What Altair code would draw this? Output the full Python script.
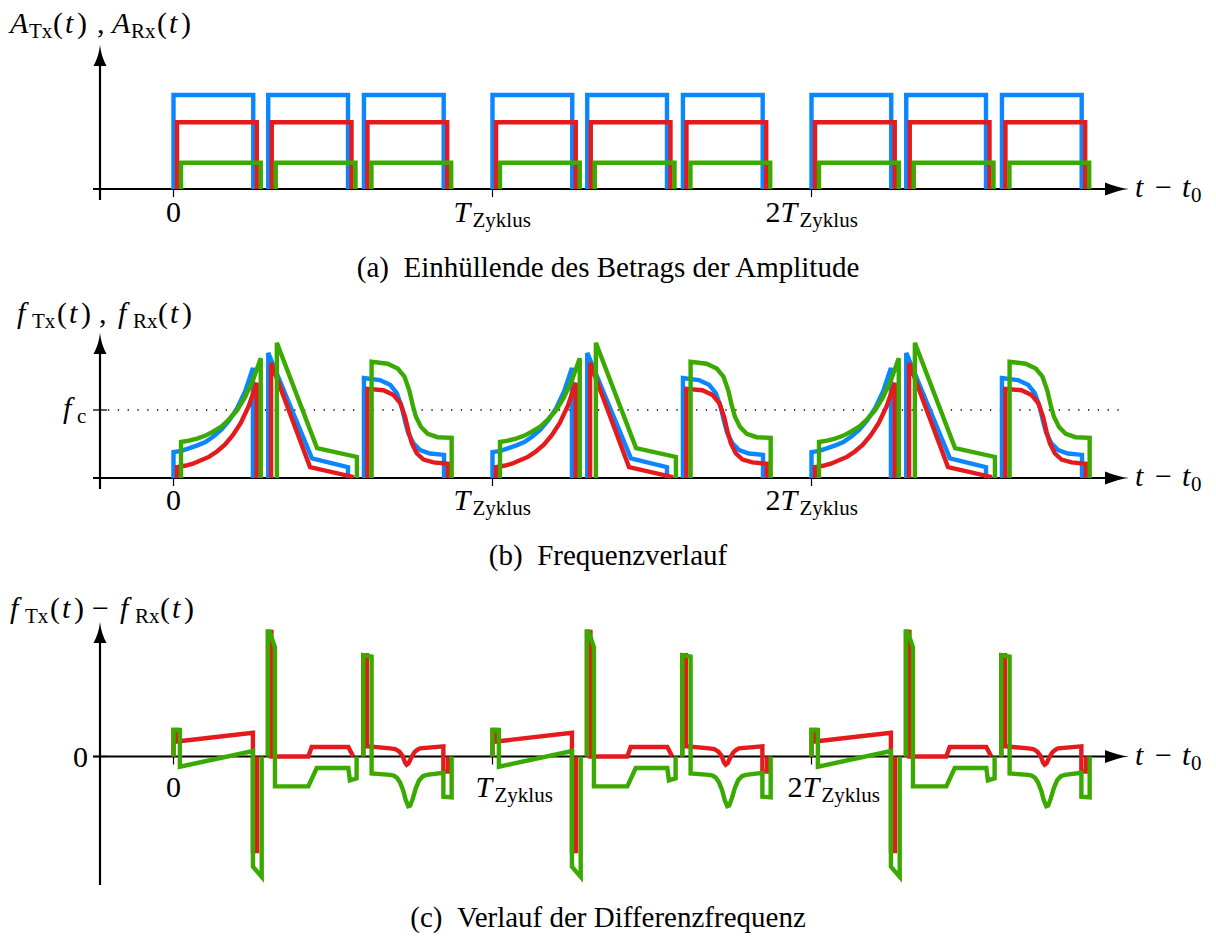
import altair as alt
import pandas as pd

# ---------------- values ----------------
CYCLES = [0, 1, 2]          # repetitions of T_Zyklus
TICKS = [0, 1, 2]           # 0, T_Zyklus, 2 T_Zyklus

# (a) envelope of the amplitude: pulse starts (units of T_Zyklus), width, height
a_blue_start = [0.000, 0.297, 0.597]
a_red_start = [0.011, 0.308, 0.608]
a_green_start = [0.0235, 0.3205, 0.6205]
a_width = 0.25
a_blue_amp = 1.00
a_red_amp = 0.71
a_green_amp = 0.28

# (b) frequency course (units of f_c), one cycle, three pulses each
b_blue_t = [[0.000, 0.025, 0.050, 0.075, 0.100, 0.125, 0.150, 0.175, 0.200, 0.225, 0.249],
            [0.297, 0.434, 0.547],
            [0.597, 0.647, 0.679, 0.700, 0.715, 0.726, 0.736, 0.752, 0.773, 0.804, 0.848]]
b_blue_f = [[0.38, 0.40, 0.44, 0.48, 0.53, 0.61, 0.71, 0.85, 1.03, 1.28, 1.62],
            [1.84, 0.29, 0.16],
            [1.47, 1.44, 1.37, 1.25, 1.05, 0.83, 0.66, 0.51, 0.41, 0.36, 0.34]]
b_red_t = [[0.011, 0.036, 0.061, 0.086, 0.111, 0.136, 0.161, 0.186, 0.211, 0.236, 0.261],
           [0.306, 0.428, 0.560],
           [0.608, 0.658, 0.690, 0.711, 0.726, 0.737, 0.747, 0.763, 0.784, 0.815, 0.860]]
b_red_f = [[0.16, 0.18, 0.21, 0.26, 0.31, 0.39, 0.49, 0.63, 0.81, 1.06, 1.40],
           [1.69, 0.16, 0.02],
           [1.31, 1.29, 1.22, 1.10, 0.90, 0.68, 0.51, 0.36, 0.27, 0.23, 0.21]]
b_green_t = [[0.0235, 0.0485, 0.0735, 0.0985, 0.1235, 0.1485, 0.1735, 0.1985, 0.2235, 0.2485, 0.2735],
             [0.324, 0.450, 0.575],
             [0.621, 0.671, 0.703, 0.724, 0.739, 0.750, 0.760, 0.776, 0.797, 0.828, 0.872]]
b_green_f = [[0.53, 0.55, 0.58, 0.62, 0.68, 0.75, 0.86, 0.99, 1.18, 1.43, 1.76],
             [1.99, 0.44, 0.31],
             [1.71, 1.68, 1.61, 1.49, 1.29, 1.07, 0.90, 0.75, 0.65, 0.60, 0.59]]
F_C = 1.0

# (c) difference frequency (units of f_c), one cycle
c_red_t = [[0.000, 0.000, 0.011, 0.011, 0.249, 0.249, 0.262, 0.262],
           [0.296, 0.296, 0.307, 0.307, 0.4226, 0.4332, 0.548, 0.5636],
           [0.595, 0.595, 0.606, 0.606, 0.679, 0.695, 0.708, 0.718, 0.726, 0.731, 0.737, 0.745,
            0.755, 0.765, 0.773, 0.846, 0.846, 0.861, 0.861]]
c_red_d = [[0.00, 0.39, 0.39, 0.22, 0.35, -1.39, -1.39, 0.00],
           [0.00, 1.83, 1.83, 0.00, 0.00, 0.14, 0.14, 0.00],
           [0.00, 1.49, 1.49, 0.15, 0.12, 0.11, 0.07, 0.01, -0.09, -0.12, -0.10, -0.02,
            0.06, 0.10, 0.12, 0.15, -0.22, -0.22, 0.00]]
c_green_t = [[0.000, 0.000, 0.020, 0.020, 0.249, 0.249, 0.2765, 0.2765],
             [0.296, 0.296, 0.301, 0.318, 0.318, 0.4226, 0.449, 0.548, 0.553, 0.574, 0.574],
             [0.595, 0.595, 0.621, 0.621, 0.679, 0.690, 0.700, 0.710, 0.720, 0.728, 0.736, 0.742,
              0.750, 0.760, 0.770, 0.782, 0.794, 0.846, 0.846, 0.872, 0.872]]
c_green_d = [[0.00, 0.39, 0.39, -0.15, 0.08, -1.62, -1.77, 0.00],
             [0.00, 1.84, 1.84, 1.61, -0.44, -0.44, -0.17, -0.17, -0.35, -0.32, 0.00],
             [0.00, 1.49, 1.47, -0.25, -0.27, -0.28, -0.31, -0.38, -0.50, -0.64, -0.73, -0.72,
              -0.62, -0.46, -0.35, -0.29, -0.27, -0.24, -0.59, -0.60, 0.00]]

# ---------------- styling / layout ----------------
BLUE, RED, GREEN = "#0a86ff", "#e41a1c", "#3aaa00"
FONT = "Liberation Serif"
W = 1216
HA, HB, HC = 290, 295, 352
X_ZERO, X_CYCLE = 173.5, 319.0
AXIS_A, PPU_A = 189, 94
AXIS_B, PPU_B = 188, 68
AXIS_C, PPU_C = 171.5, 68
LW = 4.4
MAIN, SUB = 30, 21

xs = alt.Scale(domain=[-X_ZERO / X_CYCLE, (W - X_ZERO) / X_CYCLE], nice=False, zero=False)
ys_a = alt.Scale(domain=[-(HA - AXIS_A) / PPU_A, AXIS_A / PPU_A], nice=False, zero=False)
ys_b = alt.Scale(domain=[-(HB - AXIS_B) / PPU_B, AXIS_B / PPU_B], nice=False, zero=False)
ys_c = alt.Scale(domain=[-(HC - AXIS_C) / PPU_C, AXIS_C / PPU_C], nice=False, zero=False)

ONE = pd.DataFrame({"k": [0]})
ARROW_R = "M1,0 Q0.1,-0.1 -1,-0.55 L-1,0.55 Q0.1,0.1 1,0 Z"
ARROW_U = "M0,-1 Q-0.12,0.1 -0.62,1 L0.62,1 Q0.12,0.1 0,-1 Z"


def a_frame(starts, amp):
    rows = []
    for c in CYCLES:
        for p, s in enumerate(starts):
            pts = [(s, 0.0), (s, amp), (s + a_width, amp), (s + a_width, 0.0)]
            for i, (t, v) in enumerate(pts):
                rows.append({"t": t + c, "v": v, "seg": f"{c}-{p}", "i": i})
    return pd.DataFrame(rows)


def b_frame(tl, fl):
    rows = []
    for c in CYCLES:
        for p, (ts, fs) in enumerate(zip(tl, fl)):
            pts = [(ts[0], 0.0)] + list(zip(ts, fs)) + [(ts[-1], 0.0)]
            for i, (t, v) in enumerate(pts):
                rows.append({"t": t + c, "v": v, "seg": f"{c}-{p}", "i": i})
    return pd.DataFrame(rows)


def c_frame(tl, dl):
    rows = []
    for c in CYCLES:
        for p, (ts, ds) in enumerate(zip(tl, dl)):
            for i, (t, v) in enumerate(zip(ts, ds)):
                rows.append({"t": t + c, "v": v, "seg": f"{c}-{p}", "i": i})
    return pd.DataFrame(rows)


def lines(df, color, ys):
    return alt.Chart(df).mark_line(color=color, strokeWidth=LW, strokeJoin="miter").encode(
        x=alt.X("t:Q", scale=xs, axis=None),
        y=alt.Y("v:Q", scale=ys, axis=None),
        detail="seg:N",
        order="i:Q",
    )


def txt(s, x, y, size=MAIN, italic=False, align="left"):
    return alt.Chart(ONE).mark_text(
        text=s, font=FONT, fontSize=size, fontStyle="italic" if italic else "normal",
        align=align, baseline="alphabetic", color="black",
    ).encode(x=alt.value(x), y=alt.value(y))


def tick_txt(s, t, dx, y, size=MAIN, italic=False, align="left"):
    return alt.Chart(ONE).mark_text(
        text=s, font=FONT, fontSize=size, fontStyle="italic" if italic else "normal",
        align=align, baseline="alphabetic", color="black", dx=dx,
    ).encode(x=alt.XDatum(t, scale=xs, axis=None), y=alt.value(y))


def axes(ys, axis_px, top_px, bot_px):
    out = []
    out.append(alt.Chart(ONE).mark_rule(color="black", strokeWidth=2.2).encode(
        x=alt.value(93), x2=alt.value(1112), y=alt.YDatum(0, scale=ys, axis=None)))
    out.append(alt.Chart(ONE).mark_point(shape=ARROW_R, filled=True, size=576, color="black",
                                         opacity=1, strokeWidth=0).encode(
        x=alt.value(1117), y=alt.YDatum(0, scale=ys, axis=None)))
    out.append(alt.Chart(ONE).mark_rule(color="black", strokeWidth=2.2).encode(
        x=alt.value(100), y=alt.value(bot_px), y2=alt.value(top_px + 12)))
    out.append(alt.Chart(ONE).mark_point(shape=ARROW_U, filled=True, size=441, color="black",
                                         opacity=1, strokeWidth=0).encode(
        x=alt.value(100), y=alt.value(top_px + 10.5)))
    out.append(alt.Chart(pd.DataFrame({"t": TICKS})).mark_rule(color="black", strokeWidth=1.2).encode(
        x=alt.X("t:Q", scale=xs, axis=None), y=alt.value(axis_px - 7), y2=alt.value(axis_px + 8)))
    # t - t0 label
    out += [txt("t", 1135, axis_px + 8, italic=True),
            txt("\u2212", 1155, axis_px + 8),
            txt("t", 1182, axis_px + 8, italic=True),
            txt("0", 1191, axis_px + 13, size=SUB)]
    return out


def tick_labels(base, shift=0):
    return [
        tick_txt("0", 0, 0, base, align="center"),
        tick_txt("T", 1, -39 + shift, base, italic=True),
        tick_txt("Zyklus", 1, -20 + shift, base + 5, size=SUB),
        tick_txt("2", 2, -46 + shift, base),
        tick_txt("T", 2, -31 + shift, base, italic=True),
        tick_txt("Zyklus", 2, -12 + shift, base + 5, size=SUB),
    ]


def f_title(x0, sep, sep_x, second_x):
    return [txt("f", x0, 33, italic=True), txt("Tx", x0 + 15, 38, size=SUB),
            txt("(", x0 + 40, 33), txt("t", x0 + 52, 33, italic=True), txt(")", x0 + 64, 33),
            txt(sep, x0 + sep_x, 33),
            txt("f", x0 + second_x, 33, italic=True), txt("Rx", x0 + second_x + 15, 38, size=SUB),
            txt("(", x0 + second_x + 40, 33), txt("t", x0 + second_x + 52, 33, italic=True),
            txt(")", x0 + second_x + 64, 33)]


# ---------------- panel (a) ----------------
pa_layers = axes(ys_a, AXIS_A, 45, 200)
pa_layers += [lines(a_frame(a_blue_start, a_blue_amp), BLUE, ys_a),
              lines(a_frame(a_red_start, a_red_amp), RED, ys_a),
              lines(a_frame(a_green_start, a_green_amp), GREEN, ys_a)]
pa_layers += tick_labels(AXIS_A + 33)
pa_layers += [txt("A", 10, 33, italic=True), txt("Tx", 29, 38, size=SUB),
              txt("(", 53, 33), txt("t", 65, 33, italic=True), txt(")", 77, 33),
              txt(",", 97, 33),
              txt("A", 112, 33, italic=True), txt("Rx", 131, 38, size=SUB),
              txt("(", 157, 33), txt("t", 169, 33, italic=True), txt(")", 181, 33)]
pa_layers.append(txt("(a)\u00a0\u00a0Einhüllende des Betrags der Amplitude", 608, 277, size=29, align="center"))
panel_a = alt.layer(*pa_layers).properties(width=W, height=HA)

# ---------------- panel (b) ----------------
pb_layers = axes(ys_b, AXIS_B, 43, 199)
pb_layers.append(alt.Chart(ONE).mark_rule(color="black", strokeWidth=1.3, strokeDash=[1.3, 8.5]).encode(
    x=alt.value(108), x2=alt.value(1126), y=alt.YDatum(F_C, scale=ys_b, axis=None)))
pb_layers.append(alt.Chart(ONE).mark_rule(color="black", strokeWidth=1.3).encode(
    x=alt.value(93), x2=alt.value(107), y=alt.YDatum(F_C, scale=ys_b, axis=None)))
pb_layers += [lines(b_frame(b_blue_t, b_blue_f), BLUE, ys_b),
              lines(b_frame(b_red_t, b_red_f), RED, ys_b),
              lines(b_frame(b_green_t, b_green_f), GREEN, ys_b)]
pb_layers += tick_labels(AXIS_B + 32)
pb_layers += f_title(17, ",", 82, 101)
pb_layers += [txt("f", 63, 128, italic=True), txt("c", 77, 133, size=SUB)]
pb_layers.append(txt("(b)\u00a0\u00a0Frequenzverlauf", 608, 275, size=29, align="center"))
panel_b = alt.layer(*pb_layers).properties(width=W, height=HB)

# ---------------- panel (c) ----------------
pc_layers = axes(ys_c, AXIS_C, 37, 300)
pc_layers.append(alt.Chart(ONE).mark_rule(color="black", strokeWidth=1.3).encode(
    x=alt.value(93), x2=alt.value(107), y=alt.YDatum(0, scale=ys_c, axis=None)))
pc_layers += [lines(c_frame(c_red_t, c_red_d), RED, ys_c),
              lines(c_frame(c_green_t, c_green_d), GREEN, ys_c)]
pc_layers += tick_labels(AXIS_C + 40, shift=22)
pc_layers += f_title(10, "\u2212", 82, 110)
pc_layers.append(txt("0", 73, 182))
pc_layers.append(txt("(c)\u00a0\u00a0Verlauf der Differenzfrequenz", 608, 342, size=29, align="center"))
panel_c = alt.layer(*pc_layers).properties(width=W, height=HC)

chart = alt.vconcat(panel_a, panel_b, panel_c, spacing=0).properties(
    padding=0, background="white"
).configure_view(stroke=None)

chart.save("out.html", embed_options={"renderer": "svg", "actions": False})
